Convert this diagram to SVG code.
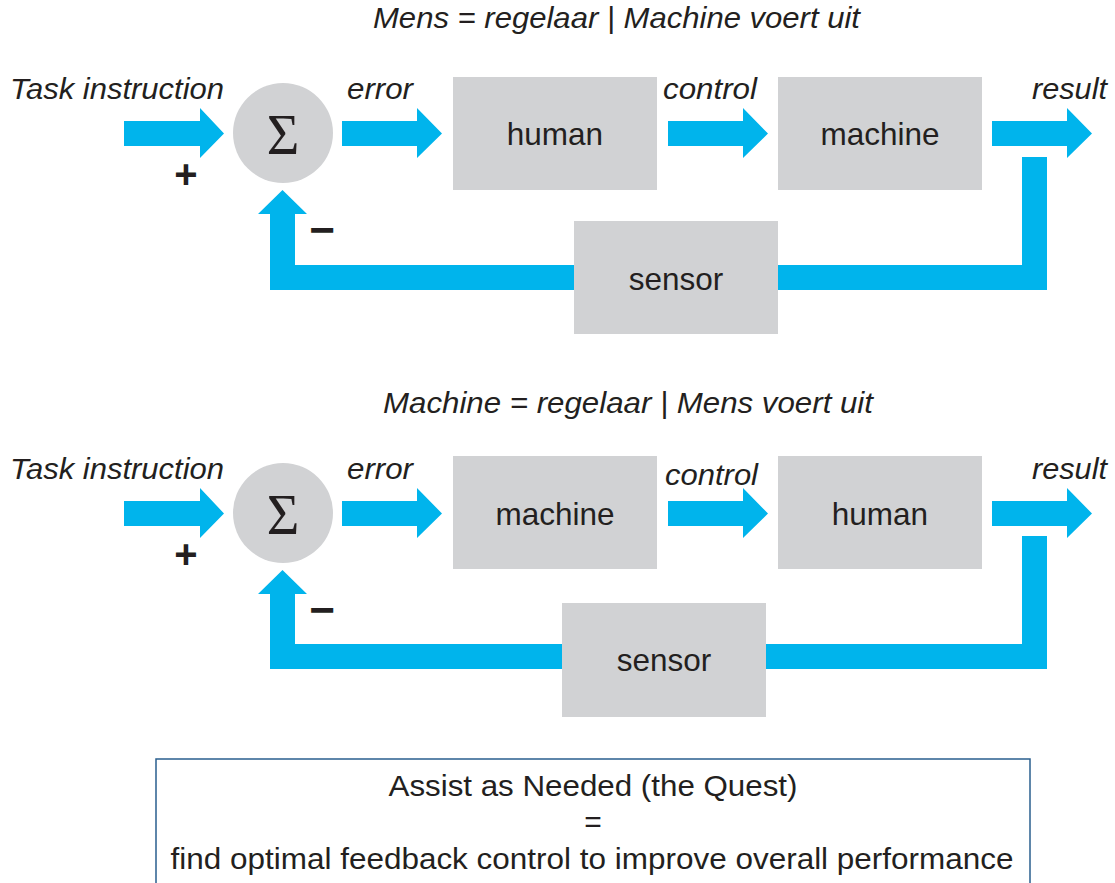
<svg xmlns="http://www.w3.org/2000/svg" width="1115" height="883" viewBox="0 0 1115 883">
<style>
.bg{fill:#ffffff}
.arrow{fill:#00b4ec}
.box{fill:#d1d2d4}
.lbl{font-family:"Liberation Sans",Arial,sans-serif;font-size:31.5px;fill:#231f20;text-anchor:middle}
.it{font-family:"Liberation Sans",Arial,sans-serif;font-size:30px;font-style:italic;fill:#231f20}
.sig{font-family:"Liberation Serif","Times New Roman",serif;font-size:56px;fill:#231f20;text-anchor:middle}
.sign{font-family:"Liberation Sans",Arial,sans-serif;font-weight:bold;fill:#231f20;text-anchor:middle}
.note{font-family:"Liberation Sans",Arial,sans-serif;font-size:30px;fill:#231f20;text-anchor:middle}
</style>
<rect class="bg" x="0" y="0" width="1115" height="883"/>

<g id="titles">
<text class="it" x="373" y="28" textLength="487" lengthAdjust="spacingAndGlyphs">Mens = regelaar | Machine voert uit</text>
<text class="it" x="383" y="413" textLength="490" lengthAdjust="spacingAndGlyphs">Machine = regelaar | Mens voert uit</text>
</g>

<g id="connectors">
<!-- top diagram -->
<polygon class="arrow" points="124,121 200,121 200,108 224,133.5 200,158 200,146 124,146"/>
<polygon class="arrow" points="342,121 417,121 417,108 442,133.5 417,158 417,146 342,146"/>
<polygon class="arrow" points="668,121 743,121 743,108 768,133.5 743,158 743,146 668,146"/>
<polygon class="arrow" points="992,121 1067,121 1067,108 1092,133.5 1067,158 1067,146 992,146"/>
<polygon class="arrow" points="1022,157 1047,157 1047,290 270,290 270,214 258,214 282.5,190 307,214 295,214 295,265 1022,265"/>
<!-- bottom diagram -->
<polygon class="arrow" points="124,501 200,501 200,488 224,513.5 200,538 200,526 124,526"/>
<polygon class="arrow" points="342,501 417,501 417,488 442,513.5 417,538 417,526 342,526"/>
<polygon class="arrow" points="668,501 743,501 743,488 768,513.5 743,538 743,526 668,526"/>
<polygon class="arrow" points="992,501 1067,501 1067,488 1092,513.5 1067,538 1067,526 992,526"/>
<polygon class="arrow" points="1022,536 1047,536 1047,669 270,669 270,594 258,594 282.5,570 307,594 295,594 295,644 1022,644"/>
</g>

<g id="labels">
<text class="it" x="10" y="99" textLength="214" lengthAdjust="spacingAndGlyphs">Task instruction</text>
<text class="it" x="347" y="99" textLength="66" lengthAdjust="spacingAndGlyphs">error</text>
<text class="it" x="663" y="99" textLength="94" lengthAdjust="spacingAndGlyphs">control</text>
<text class="it" x="1032" y="99" textLength="75" lengthAdjust="spacingAndGlyphs">result</text>
<text class="sign" x="186" y="188" font-size="40">+</text>
<text class="sign" x="322" y="245" font-size="44">−</text>

<text class="it" x="10" y="479" textLength="214" lengthAdjust="spacingAndGlyphs">Task instruction</text>
<text class="it" x="347" y="479" textLength="66" lengthAdjust="spacingAndGlyphs">error</text>
<text class="it" x="665" y="485" textLength="93" lengthAdjust="spacingAndGlyphs">control</text>
<text class="it" x="1032" y="479" textLength="75" lengthAdjust="spacingAndGlyphs">result</text>
<text class="sign" x="186" y="568" font-size="40">+</text>
<text class="sign" x="322" y="625" font-size="44">−</text>
</g>

<g id="sum1">
<circle class="box" cx="283" cy="133" r="50"/>
<text class="sig" x="283" y="154">Σ</text>
</g>
<g id="human1">
<rect class="box" x="453" y="77" width="204" height="113"/>
<text class="lbl" x="555" y="145">human</text>
</g>
<g id="machine1">
<rect class="box" x="778" y="77" width="204" height="113"/>
<text class="lbl" x="880" y="145">machine</text>
</g>
<g id="sensor1">
<rect class="box" x="574" y="221" width="204" height="113"/>
<text class="lbl" x="676" y="290">sensor</text>
</g>

<g id="sum2">
<circle class="box" cx="283" cy="513" r="50"/>
<text class="sig" x="283" y="534">Σ</text>
</g>
<g id="machine2">
<rect class="box" x="453" y="456" width="204" height="113"/>
<text class="lbl" x="555" y="525">machine</text>
</g>
<g id="human2">
<rect class="box" x="778" y="456" width="204" height="113"/>
<text class="lbl" x="880" y="525">human</text>
</g>
<g id="sensor2">
<rect class="box" x="562" y="603" width="204" height="114"/>
<text class="lbl" x="664" y="671">sensor</text>
</g>

<g id="note">
<rect x="156" y="759" width="874" height="140" fill="#ffffff" stroke="#2a5f8f" stroke-width="1.5"/>
<text class="note" x="593" y="796" textLength="409" lengthAdjust="spacingAndGlyphs">Assist as Needed (the Quest)</text>
<text class="note" x="593" y="832">=</text>
<text class="note" x="592" y="869" textLength="843" lengthAdjust="spacingAndGlyphs">find optimal feedback control to improve overall performance</text>
</g>
</svg>
